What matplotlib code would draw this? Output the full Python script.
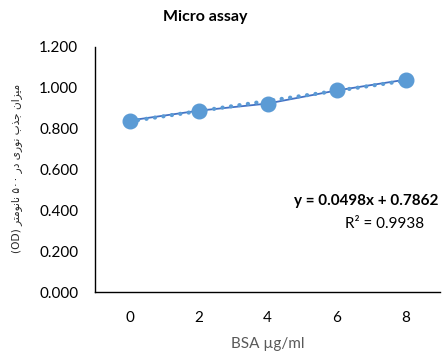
import numpy as np
import matplotlib
matplotlib.use('Agg')
import matplotlib.pyplot as plt

plt.rcParams['font.family'] = ['Lato', 'DejaVu Sans']

# BSA standard curve (micro assay)
bsa_conc = [0, 2, 4, 6, 8]
absorbance = [0.840, 0.888, 0.923, 0.987, 1.040]
y_ticks = [0.0, 0.2, 0.4, 0.6, 0.8, 1.0, 1.2]
slope, intercept, r2 = 0.0498, 0.7862, 0.9938

# Persian y label, shaped by hand (presentation forms, visual order)
words = [
    '\uFEE3\uFBFF\uFEB0\uFE8D\uFEE5',                  # میزان
    '\uFE9F\uFEAC\uFE8F',                              # جذب
    '\uFEE7\uFEEE\uFEAD\uFBFC',                        # نوری
    '\uFEA9\uFEAD',                                    # در
]
nm_word = '\uFEE7\uFE8E\uFEE7\uFEEE\uFEE3\uFE98\uFEAE'  # نانومتر
digits = '\u06F5\u06F0\u06F0'                           # ۵۰۰
ylabel = ('(OD) ' + nm_word[::-1] + ' ' + digits + ' '
          + ' '.join(w[::-1] for w in reversed(words)))

fig = plt.figure(figsize=(4.42, 3.56), dpi=100)
ax = fig.add_axes([95 / 442, 1 - 292 / 356, 345 / 442, 245 / 356])

x = np.array(bsa_conc, dtype=float)
idx = np.arange(1, len(x) + 1)
trend = intercept + slope * idx

ax.plot(x, absorbance, color='#4472C4', lw=1.3, zorder=2)
ax.plot(x, trend, color='#5B9BD5', lw=3.0,
        linestyle=(0, (0.05, 2.0)), dash_capstyle='round', zorder=3)
ax.plot(x, absorbance, 'o', color='#5B9BD5', ms=10.5, zorder=4)

ax.set_xlim(-1, 9)
ax.set_ylim(0, 1.2)
ax.set_xticks(bsa_conc)
ax.set_yticks(y_ticks)
ax.set_yticklabels([f'{v:.3f}' for v in y_ticks])
ax.tick_params(length=0, labelsize=11, labelcolor='#000000')
ax.tick_params(axis='y', pad=12)
ax.tick_params(axis='x', pad=14)
for side in ['top', 'right']:
    ax.spines[side].set_visible(False)
for side in ['left', 'bottom']:
    ax.spines[side].set_color('#000000')
    ax.spines[side].set_linewidth(1.0)

ax.set_xlabel('BSA \u00b5g/ml', fontsize=11, color='#595959', labelpad=8)

fig.text(17 / 442, 1 - 168 / 356, ylabel, rotation=90, fontsize=7.6,
         family=['DejaVu Sans'], color='#262626', ha='center', va='center')
fig.text(205 / 442, 1 - 17 / 356, 'Micro assay', fontsize=11.5,
         fontweight='bold', ha='center', va='center')
fig.text(438 / 442, 1 - 201 / 356, f'y = {slope:.4f}x + {intercept:.4f}',
         fontsize=11, fontweight='bold', ha='right', va='center')
fig.text(385 / 442, 1 - 224 / 356, f'R\u00b2 = {r2:.4f}',
         fontsize=11, ha='center', va='center')

fig.savefig('out.png', dpi=100)
